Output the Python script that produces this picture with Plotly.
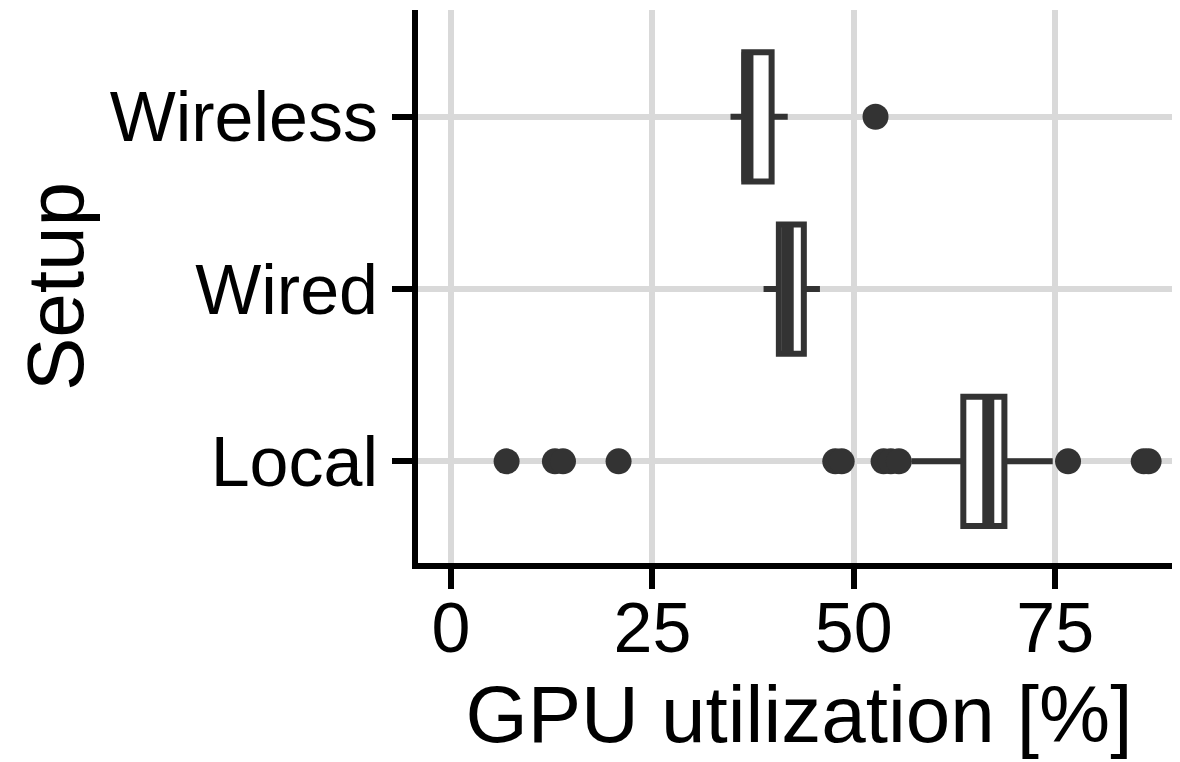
import plotly.graph_objects as go

# Data
setups = ["Local", "Wired", "Wireless"]
positions = [1, 2, 3]
lower_whisker = [57.2, 38.8, 34.7]
q1 = [63.6, 40.7, 36.4]
median = [66.7, 41.8, 36.8]
q3 = [68.7, 43.8, 39.8]
upper_whisker = [74.7, 45.8, 41.8]

outliers_local = [6.9, 12.9, 13.9, 20.8, 47.7, 48.5, 53.7, 54.6, 55.6, 76.6, 86.0, 86.6]
outliers_wired = []
outliers_wireless = [52.7]

x_ticks = [0, 25, 50, 75]

BOX_W = 0.75
DARK = "#333333"
FONT = "Liberation Sans, Arial, sans-serif"

fig = go.Figure()

for i, name in enumerate(setups):
    fig.add_trace(go.Box(
        orientation="h",
        y=[positions[i]],
        q1=[q1[i]], median=[median[i]], q3=[q3[i]],
        lowerfence=[lower_whisker[i]], upperfence=[upper_whisker[i]],
        width=BOX_W,
        fillcolor="white",
        line=dict(color=DARK, width=6),
        boxpoints=False,
        whiskerwidth=0,
        showlegend=False,
        hoverinfo="skip",
    ))

# thicker median lines (ggplot fatten)
mx, my = [], []
for i in range(len(setups)):
    mx += [median[i], median[i], None]
    my += [positions[i] - BOX_W / 2, positions[i] + BOX_W / 2, None]
fig.add_trace(go.Scatter(x=mx, y=my, mode="lines",
                         line=dict(color=DARK, width=12),
                         showlegend=False, hoverinfo="skip"))

# outliers
ox, oy = [], []
for pos, vals in zip(positions, [outliers_local, outliers_wired, outliers_wireless]):
    ox += vals
    oy += [pos] * len(vals)
fig.add_trace(go.Scatter(x=ox, y=oy, mode="markers",
                         marker=dict(color=DARK, size=26, line=dict(width=0)),
                         showlegend=False, hoverinfo="skip"))

fig.update_layout(
    width=1172, height=754,
    margin=dict(l=410, r=0, t=2, b=199),
    plot_bgcolor="white", paper_bgcolor="white",
    font=dict(family=FONT, color="black"),
    xaxis=dict(
        range=[-4.1, 90.5],
        tickvals=x_ticks,
        ticktext=[str(t) for t in x_ticks],
        showgrid=True, gridcolor="#d9d9d9", gridwidth=6,
        zeroline=False,
        showline=True, linecolor="black", linewidth=6,
        ticks="outside", ticklen=20, tickwidth=6, tickcolor="black",
        ticklabelstandoff=-21,
        tickfont=dict(size=70, color="black", family=FONT),
        title=dict(text="GPU utilization [%]", font=dict(size=80, color="black", family=FONT), standoff=22),
    ),
    yaxis=dict(
        range=[0.41, 3.62],
        tickvals=positions,
        ticktext=setups,
        showgrid=True, gridcolor="#d9d9d9", gridwidth=6,
        zeroline=False,
        showline=True, linecolor="black", linewidth=6,
        ticks="outside", ticklen=20, tickwidth=6, tickcolor="black",
        tickfont=dict(size=70, color="black", family=FONT),
        title=dict(text="Setup", font=dict(size=80, color="black", family=FONT), standoff=2),
    ),
)

fig.write_html("out.html")
